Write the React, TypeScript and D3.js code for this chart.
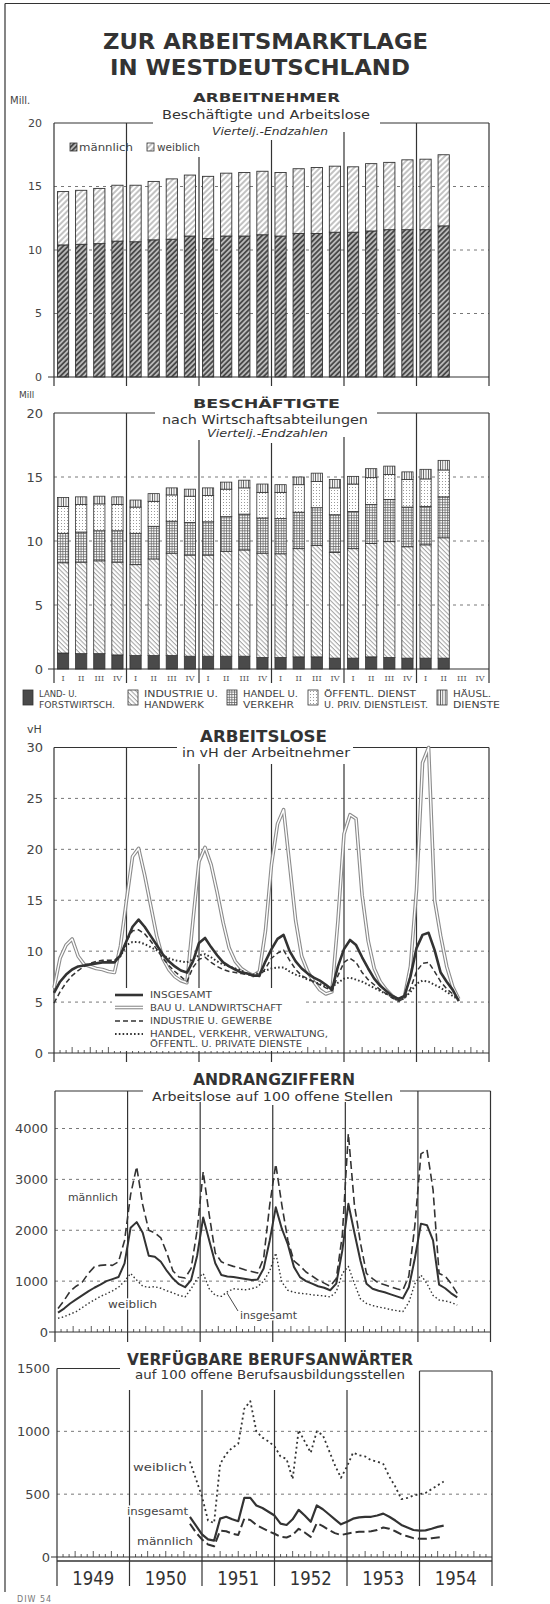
import React from 'react';
import * as d3 from 'd3';

// ─── Data ──────────────────────────────────────────────────

const years = ['1949', '1950', '1951', '1952', '1953', '1954'];
const quarterLabels = ['I', 'II', 'III', 'IV'];

// Arbeitnehmer (Mill.), Vierteljahres-Endzahlen 1949 I – 1954 II
const arbeitnehmerInsgesamt = [
  14.6, 14.7, 14.85, 15.1,
  15.1, 15.4, 15.6, 15.9,
  15.8, 16.05, 16.1, 16.2,
  16.1, 16.4, 16.5, 16.6,
  16.55, 16.8, 16.9, 17.1,
  17.15, 17.5,
];
const arbeitnehmerMaennlich = [
  10.4, 10.45, 10.5, 10.7,
  10.65, 10.8, 10.85, 11.1,
  10.9, 11.1, 11.1, 11.2,
  11.1, 11.3, 11.3, 11.4,
  11.4, 11.5, 11.6, 11.6,
  11.6, 11.9,
];

// Beschäftigte nach Wirtschaftsabteilungen (Mill.)
const landForst = [1.25, 1.2, 1.2, 1.1, 1.05, 1.05, 1.05, 1.0, 1.0, 1.0, 1.0, 0.9, 0.9, 0.95, 0.95, 0.85, 0.85, 0.95, 0.9, 0.85, 0.85, 0.85];
const industrieHandwerk = [7.05, 7.15, 7.25, 7.25, 7.1, 7.55, 8.0, 7.9, 7.9, 8.2, 8.3, 8.15, 8.1, 8.45, 8.7, 8.25, 8.55, 8.85, 9.05, 8.7, 8.85, 9.4];
const handelVerkehr = [2.3, 2.35, 2.35, 2.45, 2.45, 2.55, 2.5, 2.55, 2.6, 2.7, 2.8, 2.75, 2.75, 2.85, 2.95, 2.95, 2.9, 3.05, 3.3, 3.1, 3.0, 3.2];
const oeffentlDienste = [2.1, 2.15, 2.1, 2.05, 2.05, 1.95, 2.05, 2.05, 2.05, 2.15, 2.05, 2.0, 2.05, 2.15, 2.05, 2.1, 2.15, 2.1, 1.95, 2.15, 2.15, 2.1];
const haeuslDienste = [0.7, 0.6, 0.6, 0.6, 0.55, 0.6, 0.55, 0.55, 0.6, 0.55, 0.6, 0.65, 0.6, 0.6, 0.65, 0.65, 0.6, 0.7, 0.65, 0.6, 0.75, 0.75];
const sectorNames = [
  ['LAND- U.', 'FORSTWIRTSCH.'],
  ['INDUSTRIE U.', 'HANDWERK'],
  ['HANDEL U.', 'VERKEHR'],
  ['ÖFFENTL. DIENST', 'U. PRIV. DIENSTLEIST.'],
  ['HÄUSL.', 'DIENSTE'],
];

// Arbeitslose in vH der Arbeitnehmer, Monatsende (Index 0 = Ende Dez. 1948)
const alInsgesamt = [
  5.9, 7.0, 7.7, 8.2, 8.5, 8.6, 8.7, 8.8, 8.9, 8.9, 8.9, 9.6,
  11.0, 12.4, 13.1, 12.4, 11.5, 10.6, 9.7, 9.0, 8.5, 8.1, 7.9, 9.0,
  10.8, 11.3, 10.4, 9.6, 8.9, 8.5, 8.2, 7.9, 7.8, 7.6, 7.6, 9.0,
  10.2, 11.2, 11.6, 10.0, 9.0, 8.3, 7.8, 7.4, 7.1, 6.7, 6.2, 8.5,
  10.2, 11.1, 10.6, 9.4, 8.3, 7.3, 6.6, 6.1, 5.6, 5.3, 5.6, 7.5,
  10.3, 11.6, 11.8, 10.1, 7.9, 7.0, 6.2, 5.1,
];
const alBau = [
  6.4, 9.3, 10.6, 11.2, 9.5, 8.7, 8.5, 8.3, 8.2, 8.0, 7.9, 10.5,
  15.0, 19.3, 20.1, 17.5, 14.5, 11.5, 9.3, 8.2, 7.5, 7.1, 6.9, 13.0,
  18.8, 20.2, 18.5, 15.8, 12.8, 10.3, 9.0, 8.3, 7.9, 7.6, 8.0, 12.0,
  18.5, 22.5, 23.9, 18.5, 13.0, 9.5, 8.0, 7.0, 6.2, 5.8, 6.0, 13.0,
  21.5, 23.4, 23.0, 15.5, 11.0, 8.3, 7.0, 6.2, 5.6, 5.2, 5.5, 8.5,
  16.0, 28.5, 30.0, 15.0, 11.5, 8.5, 6.5, 5.3,
];
const alIndustrie = [
  4.9, 6.0, 6.9, 7.6, 8.1, 8.5, 8.8, 9.0, 9.1, 9.1, 9.1, 9.6,
  11.0, 12.0, 12.1, 11.7, 11.0, 10.2, 9.3, 8.6, 8.0, 7.5, 7.0, 8.4,
  9.2, 9.4, 8.9, 8.5, 8.2, 8.0, 7.9, 7.8, 7.7, 7.6, 7.5, 8.3,
  9.3, 9.8, 10.1, 9.1, 8.2, 7.6, 7.3, 7.0, 6.7, 6.4, 6.1, 7.6,
  8.9, 9.3, 8.9, 7.9, 7.2, 6.7, 6.2, 5.8, 5.4, 5.1, 5.4, 6.3,
  8.0, 8.8, 8.9, 8.0, 7.0, 6.3, 5.8, 5.2,
];
const alHandelStart = 10;
const alHandel = [
  8.9, 9.5,
  10.6, 10.9, 10.9, 10.7, 10.4, 10.1, 9.6, 9.3, 9.1, 9.0, 8.9, 9.2,
  9.6, 9.7, 9.4, 9.0, 8.7, 8.5, 8.3, 8.1, 7.8, 7.7, 7.9, 8.1,
  8.3, 8.4, 8.4, 8.0, 7.7, 7.5, 7.2, 7.0, 6.8, 6.5, 6.5, 6.9,
  7.3, 7.4, 7.2, 7.0, 6.7, 6.4, 6.1, 5.8, 5.5, 5.1, 5.4, 6.0,
  6.8, 7.1, 7.0, 6.7, 6.4, 6.0, 5.6, 5.2,
];
const alLegend = ['INSGESAMT', 'BAU U. LANDWIRTSCHAFT', 'INDUSTRIE U. GEWERBE', 'HANDEL, VERKEHR, VERWALTUNG,', 'ÖFFENTL. U. PRIVATE DIENSTE'];

// Andrangziffern: Arbeitslose auf 100 offene Stellen, Monatswerte Jan. 1949 – Juli 1954
const andrangMaennlich = [
  460, 620, 800, 900, 980, 1150, 1280, 1310, 1320, 1310, 1380, 1800,
  2700, 3250, 2500, 2000, 1950, 1850, 1550, 1200, 1080, 1060, 1250, 2000,
  3150, 2300, 1550, 1380, 1330, 1290, 1260, 1220, 1190, 1160, 1450, 2500,
  3300, 2500, 1800, 1400, 1300, 1180, 1100, 1020, 960, 900, 1050, 1900,
  3900, 2500, 1750, 1150, 1050, 960, 930, 890, 850, 820, 1100, 2100,
  3500, 3580, 2800, 1150, 1100, 950, 760,
];
const andrangInsgesamt = [
  380, 460, 560, 640, 720, 800, 870, 930, 1000, 1040, 1080, 1350,
  2050, 2160, 1950, 1500, 1480, 1380, 1200, 1050, 940, 880, 1020, 1500,
  2250, 1800, 1350, 1120, 1090, 1080, 1060, 1040, 1020, 1030, 1250, 1800,
  2450, 2030, 1720, 1280, 1080, 1000, 950, 900, 870, 820, 950, 1600,
  2520, 1950, 1400, 950, 850, 810, 780, 740, 700, 660, 880, 1450,
  2130, 2100, 1800, 930, 860, 760, 680,
];
const andrangWeiblich = [
  270, 300, 350, 400, 480, 560, 630, 700, 750, 810, 880, 1000,
  1150, 1020, 900, 880, 890, 860, 810, 770, 720, 690, 850, 1050,
  1150, 850, 720, 700, 790, 850, 840, 830, 850, 890, 1000, 1200,
  1550, 980, 820, 780, 760, 750, 730, 720, 710, 690, 790, 1150,
  1290, 950, 650, 560, 520, 490, 470, 440, 420, 400, 580, 950,
  1120, 950, 720, 630, 610, 580, 530,
];

// Verfügbare Berufsanwärter auf 100 offene Berufsausbildungsstellen (ab Ende Okt. 1950)
const berufStart = 22;
const berufWeiblich = [
  760, 620, 480, 290, 270, 740, 820, 870, 900, 1180, 1240, 1000, 950, 920, 880, 800, 780, 620,
  1010, 920, 830, 1000, 970, 850, 730, 630, 720, 830, 810, 800, 770, 760, 740, 640, 560, 460,
  470, 490, 500, 510, 540, 570, 600,
];
const berufInsgesamt = [
  320, 250, 180, 140, 130, 305, 320, 300, 285, 470, 470, 410, 390, 360, 330, 265, 255, 300,
  375, 330, 280, 410, 380, 340, 300, 260, 280, 305, 315, 320, 320, 330, 345, 320, 290, 255,
  235, 215, 210, 212, 225, 240, 250,
];
const berufMaennlich = [
  265, 195, 140, 100, 85, 210, 205, 185, 175, 305, 295, 255, 230, 205, 185, 160, 155, 175,
  225, 195, 160, 270, 245, 215, 190, 175, 185, 195, 200, 200, 205, 215, 235, 225, 205, 180,
  165, 150, 145, 145, 150, 155, 160,
];

const ticksMill = [0, 5, 10, 15, 20];
const ticksVH = [0, 5, 10, 15, 20, 25, 30];
const ticksAndrang = [0, 1000, 2000, 3000, 4000];
const ticksBeruf = [0, 500, 1000, 1500];

// ─── Styling ───────────────────────────────────────────────

const FONT = "'DejaVu Sans', Verdana, sans-serif";
const INK = '#333';
const GRID = '#555';

const quarterKeys = years.flatMap((y) => quarterLabels.map((q) => `${y}-${q}`));

// ─── Helpers ───────────────────────────────────────────────

type Seg = [number, number, number];

function Frame({ x0, x1, top, rightTop, base, low, topSegs, yearX, yearTop }: {
  x0: number; x1: number; top: number; rightTop?: number; base: number; low: number;
  topSegs: Seg[]; yearX: number[]; yearTop: number[];
}) {
  return (
    <g stroke={INK} strokeWidth={1.2} fill="none">
      <line x1={x0} x2={x0} y1={top} y2={low} />
      <line x1={x1} x2={x1} y1={rightTop ?? top} y2={low} />
      {topSegs.map(([a, b, y], k) => <line key={k} x1={a} x2={b} y1={y} y2={y} />)}
      <line x1={x0 - 6} x2={x1} y1={base} y2={base} />
      {yearX.map((x, k) => <line key={k} x1={x} x2={x} y1={yearTop[k]} y2={low} />)}
    </g>
  );
}

function Grid({ y, ticks, x0, x1 }: { y: d3.ScaleLinear<number, number>; ticks: number[]; x0: number; x1: number }) {
  return (
    <g stroke={GRID} strokeWidth={0.8} strokeDasharray="3 4">
      {ticks.map((t) => <line key={t} x1={x0} x2={x1} y1={y(t)} y2={y(t)} />)}
    </g>
  );
}

function YLabels({ y, ticks, x, size }: { y: d3.ScaleLinear<number, number>; ticks: number[]; x: number; size: number }) {
  return (
    <g fill="#444" fontSize={size} textAnchor="end">
      {ticks.map((t) => <text key={t} x={x} y={y(t)} dy="0.36em">{t}</text>)}
    </g>
  );
}

function MonthTicks({ x, base }: { x: d3.ScaleLinear<number, number>; base: number }) {
  return (
    <g stroke={INK} strokeWidth={0.8}>
      {d3.range(1, 72).filter((m) => m % 12 !== 0).map((m) => (
        <line key={m} x1={x(m)} x2={x(m)} y1={base} y2={base - (m % 3 === 0 ? 6 : 3)} />
      ))}
    </g>
  );
}

function Titles({ lines }: { lines: { t: string; x: number; y: number; s: number; w: number; bold?: boolean; italic?: boolean }[] }) {
  return (
    <g fill={INK} textAnchor="middle">
      {lines.map((l) => (
        <text key={l.t} x={l.x} y={l.y} fontSize={l.s} fontWeight={l.bold ? 700 : 400}
          fontStyle={l.italic ? 'italic' : 'normal'} textLength={l.w} lengthAdjust="spacingAndGlyphs">
          {l.t}
        </text>
      ))}
    </g>
  );
}

const monthLine = (x: d3.ScaleLinear<number, number>, y: d3.ScaleLinear<number, number>, start: number, offset: number) =>
  d3.line<number>().x((_, i) => x(start + i + offset)).y((d) => y(d));

const halo = { stroke: '#fff', strokeWidth: 3, paintOrder: 'stroke' as const };

// ─── Patterns ──────────────────────────────────────────────

function Defs() {
  return (
    <defs>
      <pattern id="pMale" width="3.6" height="3.6" patternUnits="userSpaceOnUse" patternTransform="rotate(45)">
        <rect width="3.6" height="3.6" fill="#4a4a4a" />
        <line x1="0.9" y1="0" x2="0.9" y2="3.6" stroke="#fff" strokeWidth="1.1" />
      </pattern>
      <pattern id="pFemale" width="4" height="4" patternUnits="userSpaceOnUse" patternTransform="rotate(45)">
        <rect width="4" height="4" fill="#fff" />
        <line x1="1" y1="0" x2="1" y2="4" stroke="#777" strokeWidth="0.9" />
      </pattern>
      <pattern id="pLand" width="4" height="4" patternUnits="userSpaceOnUse">
        <rect width="4" height="4" fill="#4a4a4a" />
      </pattern>
      <pattern id="pInd" width="3.2" height="3.2" patternUnits="userSpaceOnUse" patternTransform="rotate(-45)">
        <rect width="3.2" height="3.2" fill="#fff" />
        <line x1="1" y1="0" x2="1" y2="3.2" stroke="#777" strokeWidth="0.7" />
      </pattern>
      <pattern id="pHandel" width="2.6" height="2.6" patternUnits="userSpaceOnUse">
        <rect width="2.6" height="2.6" fill="#fff" />
        <path d="M0.5 0V2.6M0 0.5H2.6" stroke="#666" strokeWidth="0.8" />
      </pattern>
      <pattern id="pOeff" width="3" height="3" patternUnits="userSpaceOnUse">
        <rect width="3" height="3" fill="#fff" />
        <circle cx="1.5" cy="1.5" r="0.5" fill="#777" />
      </pattern>
      <pattern id="pHaeusl" width="2.4" height="3" patternUnits="userSpaceOnUse">
        <rect width="2.4" height="3" fill="#fff" />
        <line x1="1.2" y1="0" x2="1.2" y2="3" stroke="#555" strokeWidth="0.9" />
      </pattern>
    </defs>
  );
}

// ─── Panel 1: Arbeitnehmer ─────────────────────────────────

function PanelArbeitnehmer() {
  const x0 = 54, x1 = 489;
  const y = d3.scaleLinear().domain([0, 20]).range([377, 123]);
  const band = d3.scaleBand().domain(quarterKeys).range([x0, x1]).paddingInner(0.38).paddingOuter(0.19);
  const yr = d3.scaleLinear().domain([0, 6]).range([x0, x1]);
  return (
    <g>
      <Grid y={y} ticks={[5, 10, 15]} x0={x0} x1={x1} />
      {arbeitnehmerInsgesamt.map((tot, i) => {
        const m = arbeitnehmerMaennlich[i];
        const bx = band(quarterKeys[i]) as number;
        const w = band.bandwidth();
        return (
          <g key={i} stroke={INK} strokeWidth={0.9}>
            <rect x={bx} y={y(m)} width={w} height={y(0) - y(m)} fill="url(#pMale)" />
            <rect x={bx} y={y(tot)} width={w} height={y(m) - y(tot)} fill="url(#pFemale)" />
          </g>
        );
      })}
      <Frame x0={x0} x1={x1} top={y(20)} base={y(0)} low={386}
        topSegs={[[x0, 153, y(20)], [380, x1, y(20)]]}
        yearX={[1, 2, 3, 4, 5].map(yr)} yearTop={[y(20), 157, 140, 132, y(20)]} />
      <YLabels y={y} ticks={ticksMill} x={42} size={11} />
      <text x={10} y={104} fontSize={10} fill="#444">Mill.</text>
      <Titles lines={[
        { t: 'ARBEITNEHMER', x: 266.5, y: 102, s: 13, w: 147, bold: true },
        { t: 'Beschäftigte und Arbeitslose', x: 266, y: 119, s: 12.5, w: 208 },
        { t: 'Viertelj.-Endzahlen', x: 270, y: 135, s: 10, w: 116, italic: true },
      ]} />
      <g stroke={INK} strokeWidth={0.8}>
        <rect x={70} y={143} width={7} height={8} fill="url(#pMale)" />
        <rect x={147} y={143} width={7} height={8} fill="url(#pFemale)" />
      </g>
      <g fill="#444" fontSize={11}>
        <text x={79} y={151} textLength={54} lengthAdjust="spacingAndGlyphs">männlich</text>
        <text x={157} y={151} textLength={43} lengthAdjust="spacingAndGlyphs">weiblich</text>
      </g>
    </g>
  );
}

// ─── Panel 2: Beschäftigte ─────────────────────────────────

function PanelBeschaeftigte() {
  const x0 = 54, x1 = 489;
  const y = d3.scaleLinear().domain([0, 20]).range([669, 413]);
  const band = d3.scaleBand().domain(quarterKeys).range([x0, x1]).paddingInner(0.38).paddingOuter(0.19);
  const yr = d3.scaleLinear().domain([0, 6]).range([x0, x1]);
  const keys = ['land', 'industrie', 'handel', 'oeffentl', 'haeusl'];
  const fills = ['url(#pLand)', 'url(#pInd)', 'url(#pHandel)', 'url(#pOeff)', 'url(#pHaeusl)'];
  const rows = landForst.map((v, i) => ({
    land: v, industrie: industrieHandwerk[i], handel: handelVerkehr[i],
    oeffentl: oeffentlDienste[i], haeusl: haeuslDienste[i],
  }));
  const series = d3.stack<Record<string, number>>().keys(keys)(rows);
  const legendX = [23, 128, 227, 308, 437];
  const legendW = [[38, 76], [74, 60], [55, 51], [92, 104], [38, 47]];
  return (
    <g>
      <Grid y={y} ticks={[5, 10, 15]} x0={x0} x1={x1} />
      {series.map((s, k) => (
        <g key={s.key} fill={fills[k]} stroke={INK} strokeWidth={0.8}>
          {s.map((d, i) => (
            <rect key={i} x={band(quarterKeys[i]) as number} width={band.bandwidth()}
              y={y(d[1])} height={y(d[0]) - y(d[1])} />
          ))}
        </g>
      ))}
      <Frame x0={x0} x1={x1} top={y(20)} base={y(0)} low={683}
        topSegs={[[x0, 155, y(20)], [377, x1, y(20)]]}
        yearX={[1, 2, 3, 4, 5].map(yr)} yearTop={[y(20), 440, 443, 437, y(20)]} />
      <YLabels y={y} ticks={ticksMill} x={43} size={13} />
      <text x={19} y={398} fontSize={9} fill="#444">Mill</text>
      <Titles lines={[
        { t: 'BESCHÄFTIGTE', x: 266.5, y: 408, s: 13, w: 147, bold: true },
        { t: 'nach Wirtschaftsabteilungen', x: 265, y: 424, s: 12.5, w: 206 },
        { t: 'Viertelj.-Endzahlen', x: 267.5, y: 437, s: 10, w: 121, italic: true },
      ]} />
      <g fill="#555" fontSize={8} fontFamily="'DejaVu Serif', serif" textAnchor="middle">
        {quarterKeys.map((k) => (
          <text key={k} x={(band(k) as number) + band.bandwidth() / 2} y={681}>{k.split('-')[1]}</text>
        ))}
      </g>
      {sectorNames.map((names, k) => (
        <g key={k}>
          <rect x={legendX[k]} y={690} width={10} height={15} fill={fills[k]} stroke={INK} strokeWidth={0.8} />
          <g fill="#444" fontSize={8.5}>
            <text x={legendX[k] + 16} y={697} textLength={legendW[k][0]} lengthAdjust="spacingAndGlyphs">{names[0]}</text>
            <text x={legendX[k] + 16} y={708} textLength={legendW[k][1]} lengthAdjust="spacingAndGlyphs">{names[1]}</text>
          </g>
        </g>
      ))}
    </g>
  );
}

// ─── Panel 3: Arbeitslose ──────────────────────────────────

function PanelArbeitslose() {
  const x0 = 54, x1 = 489;
  const x = d3.scaleLinear().domain([0, 72]).range([x0, x1]);
  const y = d3.scaleLinear().domain([0, 30]).range([1053, 747.5]);
  const base = y(0);
  const line = (start: number) => monthLine(x, y, start, 0);
  const legendY = [998, 1010.5, 1024, 1037, 1047];
  const legendW = [62, 132, 122, 178, 152];
  return (
    <g>
      <Grid y={y} ticks={[5, 10, 15, 20, 25]} x0={x0} x1={x1} />
      <MonthTicks x={x} base={base} />
      <Frame x0={x0} x1={x1} top={y(30)} base={base} low={1062}
        topSegs={[[x0, 177, y(30)], [353, x1, y(30)]]}
        yearX={[12, 24, 36, 48, 60].map(x)} yearTop={[y(30), 764, 764, 764, y(30)]} />
      <g fill="none" strokeLinejoin="round">
        <path d={line(0)(alBau) ?? ''} stroke="#8c8c8c" strokeWidth={3.6} />
        <path d={line(0)(alBau) ?? ''} stroke="#fff" strokeWidth={1.4} />
        <path d={line(alHandelStart)(alHandel) ?? ''} stroke={INK} strokeWidth={2} strokeDasharray="1.6 2.2" />
        <path d={line(0)(alIndustrie) ?? ''} stroke={INK} strokeWidth={1.5} strokeDasharray="5 3" />
        <path d={line(0)(alInsgesamt) ?? ''} stroke={INK} strokeWidth={2.6} />
      </g>
      <rect x={112} y={988} width={190} height={63} fill="#fff" />
      <g fill="none">
        <line x1={115} x2={143} y1={legendY[0] - 3} y2={legendY[0] - 3} stroke={INK} strokeWidth={2.6} />
        <line x1={115} x2={143} y1={legendY[1] - 3} y2={legendY[1] - 3} stroke="#8c8c8c" strokeWidth={3.6} />
        <line x1={115} x2={143} y1={legendY[1] - 3} y2={legendY[1] - 3} stroke="#fff" strokeWidth={1.4} />
        <line x1={115} x2={143} y1={legendY[2] - 3} y2={legendY[2] - 3} stroke={INK} strokeWidth={1.5} strokeDasharray="5 3" />
        <line x1={115} x2={143} y1={legendY[3] - 3} y2={legendY[3] - 3} stroke={INK} strokeWidth={2} strokeDasharray="1.6 2.2" />
      </g>
      <g fill="#444" fontSize={8.5}>
        {alLegend.map((t, k) => (
          <text key={t} x={150} y={legendY[k]} textLength={legendW[k]} lengthAdjust="spacingAndGlyphs" {...halo}>{t}</text>
        ))}
      </g>
      <YLabels y={y} ticks={ticksVH} x={43} size={13} />
      <text x={27} y={733} fontSize={11} fill="#444">vH</text>
      <Titles lines={[
        { t: 'ARBEITSLOSE', x: 263.5, y: 742, s: 15, w: 127, bold: true },
        { t: 'in vH der Arbeitnehmer', x: 266, y: 757, s: 12.5, w: 168 },
      ]} />
    </g>
  );
}

// ─── Panel 4: Andrangziffern ───────────────────────────────

function PanelAndrang() {
  const x0 = 55, x1 = 490.5;
  const x = d3.scaleLinear().domain([0, 72]).range([x0, x1]);
  const y = d3.scaleLinear().domain([0, 4000]).range([1332, 1128.5]);
  const base = y(0);
  const top = 1091;
  const line = monthLine(x, y, 0, 0.5);
  return (
    <g>
      <Grid y={y} ticks={[1000, 2000, 3000, 4000]} x0={x0} x1={x1} />
      <MonthTicks x={x} base={base} />
      <Frame x0={x0} x1={x1} top={top} base={base} low={1342}
        topSegs={[[x0, 143, top], [400, x1, top]]}
        yearX={[12, 24, 36, 48, 60].map(x)} yearTop={[top, 1102, 1105, 1102, top]} />
      <g fill="none" strokeLinejoin="round">
        <path d={line(andrangWeiblich) ?? ''} stroke={INK} strokeWidth={1.4} strokeDasharray="1.5 2.3" />
        <path d={line(andrangMaennlich) ?? ''} stroke={INK} strokeWidth={1.6} strokeDasharray="8 4" />
        <path d={line(andrangInsgesamt) ?? ''} stroke={INK} strokeWidth={2} />
      </g>
      <line x1={227} y1={1293} x2={238} y2={1311} stroke={INK} strokeWidth={0.9} />
      <g fill="#444" fontSize={10.5}>
        <text x={68} y={1201} textLength={50} lengthAdjust="spacingAndGlyphs" {...halo}>männlich</text>
        <text x={108} y={1308} textLength={49} lengthAdjust="spacingAndGlyphs" {...halo}>weiblich</text>
        <text x={240} y={1319} textLength={57} lengthAdjust="spacingAndGlyphs" {...halo}>insgesamt</text>
      </g>
      <YLabels y={y} ticks={ticksAndrang} x={48} size={13} />
      <Titles lines={[
        { t: 'ANDRANGZIFFERN', x: 274, y: 1085, s: 15, w: 162, bold: true },
        { t: 'Arbeitslose  auf 100 offene Stellen', x: 272.5, y: 1101, s: 13, w: 241 },
      ]} />
    </g>
  );
}

// ─── Panel 5: Berufsanwärter ───────────────────────────────

function PanelBerufsanwaerter() {
  const x0 = 57, x1 = 492;
  const x = d3.scaleLinear().domain([0, 72]).range([x0, x1]);
  const y = d3.scaleLinear().domain([0, 1500]).range([1557, 1368.5]);
  const base = y(0);
  const line = monthLine(x, y, berufStart, 0);
  return (
    <g>
      <Grid y={y} ticks={[500, 1000]} x0={x0} x1={x1} />
      <MonthTicks x={x} base={base} />
      <Frame x0={x0} x1={x1} top={y(1500)} rightTop={1371} base={base} low={1586}
        topSegs={[[x0, 120, y(1500)], [x(60), x1, 1371]]}
        yearX={[12, 24, 36, 48, 60].map(x)} yearTop={[1390, 1390, 1390, 1390, 1371]} />
      <line x1={x0} x2={x1} y1={base + 4} y2={base + 4} stroke={INK} strokeWidth={1.4} />
      <g fill="none" strokeLinejoin="round">
        <path d={line(berufWeiblich) ?? ''} stroke={INK} strokeWidth={1.8} strokeDasharray="2 3" />
        <path d={line(berufMaennlich) ?? ''} stroke={INK} strokeWidth={2} strokeDasharray="9 4" />
        <path d={line(berufInsgesamt) ?? ''} stroke={INK} strokeWidth={2.2} />
      </g>
      <g fill="#444" fontSize={11}>
        <text x={133} y={1471} textLength={54} lengthAdjust="spacingAndGlyphs" {...halo}>weiblich</text>
        <text x={127} y={1515} textLength={61} lengthAdjust="spacingAndGlyphs" {...halo}>insgesamt</text>
        <text x={137} y={1545} textLength={56} lengthAdjust="spacingAndGlyphs" {...halo}>männlich</text>
      </g>
      <YLabels y={y} ticks={ticksBeruf} x={50} size={13} />
      <Titles lines={[
        { t: 'VERFÜGBARE BERUFSANWÄRTER', x: 270, y: 1365, s: 15, w: 286, bold: true },
        { t: 'auf 100 offene Berufsausbildungsstellen', x: 270, y: 1379, s: 12.5, w: 270 },
      ]} />
      <g fill={INK} fontSize={20} textAnchor="middle">
        {years.map((t, k) => (
          <text key={t} x={x(k * 12 + 6)} y={1585} textLength={42} lengthAdjust="spacingAndGlyphs">{t}</text>
        ))}
      </g>
    </g>
  );
}

// ─── App ───────────────────────────────────────────────────

export default function App() {
  return (
    <svg width={550} height={1604} viewBox="0 0 550 1604" fontFamily={FONT}
      style={{ position: 'absolute', left: 0, top: 0, background: '#fff' }}>
      <Defs />
      <rect width={550} height={1604} fill="#fff" />
      <g stroke={INK} strokeWidth={1.2}>
        <line x1={5} x2={550} y1={3.5} y2={3.5} />
        <line x1={5} x2={5} y1={3.5} y2={1592} />
      </g>
      <Titles lines={[
        { t: 'ZUR ARBEITSMARKTLAGE', x: 265.5, y: 49, s: 21, w: 325, bold: true },
        { t: 'IN WESTDEUTSCHLAND', x: 260, y: 75, s: 21, w: 300, bold: true },
      ]} />
      <PanelArbeitnehmer />
      <PanelBeschaeftigte />
      <PanelArbeitslose />
      <PanelAndrang />
      <PanelBerufsanwaerter />
      <text x={17} y={1602} fontSize={8} fill="#777" letterSpacing={1}>DIW 54</text>
    </svg>
  );
}
